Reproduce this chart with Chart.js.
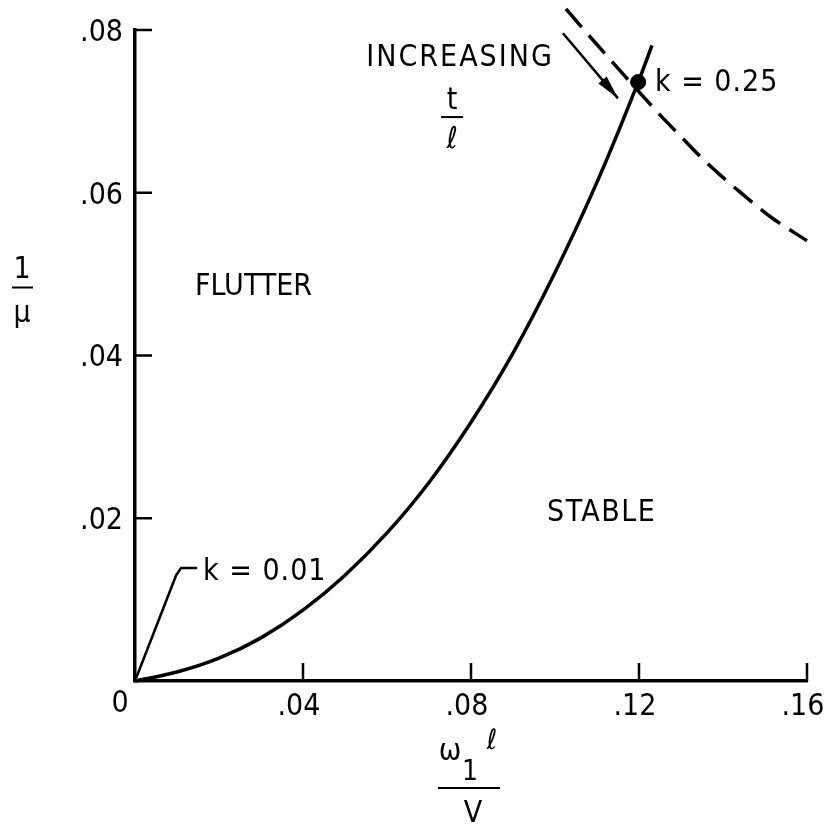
<!DOCTYPE html>
<html lang="en">
<head>
<meta charset="UTF-8">
<title>Flutter boundary</title>
<script src="https://cdn.jsdelivr.net/npm/chart.js@4"></script>
<style>
  html, body { margin: 0; padding: 0; background: #fff; }
  canvas { display: block; }
</style>
</head>
<body>
<canvas id="chart" width="825" height="830"></canvas>
<script>
// Données
const curveX = [0, 0.010, 0.020, 0.030, 0.040, 0.050, 0.060, 0.070, 0.080, 0.090, 0.100, 0.110, 0.1198, 0.1231];
const curveY = [0, 0.0011, 0.0028, 0.0053, 0.0087, 0.0130, 0.0182, 0.0244, 0.0318, 0.0403, 0.0502, 0.0613, 0.0736, 0.0781];

const dashX = [0.1026, 0.1071, 0.1119, 0.1167, 0.1214, 0.1255, 0.1298, 0.1345, 0.1393, 0.1440, 0.1517, 0.1600];
const dashY = [0.0826, 0.0799, 0.0771, 0.0743, 0.0716, 0.0693, 0.0670, 0.0645, 0.0622, 0.0601, 0.0569, 0.0541];

const leaderX = [0, 0.0098, 0.0110, 0.0148];
const leaderY = [0, 0.0130, 0.0139, 0.0139];

const arrowX = [0.1019, 0.1150];
const arrowY = [0.0796, 0.0716];

const pointX = [0.1198];
const pointY = [0.0736];

const xTicks = [0.04, 0.08, 0.12, 0.16];
const yTicks = [0.02, 0.04, 0.06, 0.08];

const FONT = "'DejaVu Sans Condensed', 'DejaVu Sans', sans-serif";
const INK = '#000';

function toPoints(xs, ys) {
  return xs.map((x, i) => ({ x: x, y: ys[i] }));
}

function tickLabel(v) {
  if (Math.abs(v) < 1e-9) return '';
  return v.toFixed(2).replace(/^0/, '');
}

// Plugin pour les graduations intérieures, la flèche et les textes
const figurePlugin = {
  id: 'figure',
  afterDatasetsDraw(chart) {
    const { ctx, chartArea, scales } = chart;
    const xs = scales.x, ys = scales.y;
    ctx.save();
    ctx.strokeStyle = INK;
    ctx.fillStyle = INK;

    // graduations vers l'intérieur
    ctx.lineWidth = 2.5;
    ctx.beginPath();
    yTicks.forEach(v => {
      const py = ys.getPixelForValue(v);
      ctx.moveTo(chartArea.left, py);
      ctx.lineTo(chartArea.left + 17, py);
    });
    xTicks.forEach(v => {
      const px = xs.getPixelForValue(v);
      ctx.moveTo(px, chartArea.bottom);
      ctx.lineTo(px, chartArea.bottom - 18);
    });
    ctx.stroke();

    // pointe de flèche
    const n = arrowX.length;
    const tx = xs.getPixelForValue(arrowX[n - 1]), ty = ys.getPixelForValue(arrowY[n - 1]);
    const sx = xs.getPixelForValue(arrowX[n - 2]), sy = ys.getPixelForValue(arrowY[n - 2]);
    const ang = Math.atan2(ty - sy, tx - sx);
    const len = 24, half = 5.5;
    ctx.beginPath();
    ctx.moveTo(tx, ty);
    ctx.lineTo(tx - len * Math.cos(ang) + half * Math.sin(ang), ty - len * Math.sin(ang) - half * Math.cos(ang));
    ctx.lineTo(tx - len * Math.cos(ang) - half * Math.sin(ang), ty - len * Math.sin(ang) + half * Math.cos(ang));
    ctx.closePath();
    ctx.fill();

    // textes
    function text(str, x, y, align, size) {
      ctx.font = (size || 30) + 'px ' + FONT;
      ctx.textAlign = align || 'left';
      ctx.textBaseline = 'middle';
      ctx.fillText(str, x, y);
    }
    function dtext(str, vx, vy, align, size) {
      text(str, xs.getPixelForValue(vx), ys.getPixelForValue(vy), align, size);
    }

    dtext('FLUTTER', 0.0143, 0.0484);
    ctx.letterSpacing = '1.5px';
    dtext('STABLE', 0.0981, 0.0206);
    ctx.letterSpacing = '2px';
    dtext('INCREASING', 0.0774, 0.0765, 'center');
    ctx.letterSpacing = '1px';
    dtext('k = 0.25', 0.1238, 0.0735);
    dtext('k = 0.01', 0.0162, 0.0134);
    ctx.letterSpacing = '0px';

    // fraction t / l
    const fx = xs.getPixelForValue(0.0755);
    dtext('t', 0.0755, 0.0713, 'center');
    ctx.font = 'italic 30px ' + FONT;
    ctx.textAlign = 'center';
    ctx.fillText('\u2113', fx, ys.getPixelForValue(0.0665));
    ctx.lineWidth = 2;
    ctx.beginPath();
    const fl = ys.getPixelForValue(0.0693);
    ctx.moveTo(fx - 11, fl);
    ctx.lineTo(fx + 11, fl);
    ctx.stroke();

    // origine
    text('0', chartArea.left - 15, chartArea.bottom + 23, 'center');

    // titre axe y : 1 / mu
    const ty0 = (chartArea.top + chartArea.bottom) / 2 - 68;
    text('1', 22, ty0 - 17, 'center');
    ctx.beginPath();
    ctx.moveTo(12, ty0);
    ctx.lineTo(33, ty0);
    ctx.stroke();
    text('\u03BC', 22, ty0 + 27, 'center');

    // titre axe x : omega_1 l / V
    const cx = (chartArea.left + chartArea.right) / 2;
    const by = chartArea.bottom + 107;
    text('\u03C9', cx - 21, by - 36, 'center');
    text('1', cx - 1, by - 15, 'center', 28);
    ctx.font = 'italic 28px ' + FONT;
    ctx.fillText('\u2113', cx + 21, by - 46);
    ctx.beginPath();
    ctx.moveTo(cx - 33, by);
    ctx.lineTo(cx + 29, by);
    ctx.stroke();
    text('V', cx + 2, by + 26, 'center');

    ctx.restore();
  }
};

const lineBase = { showLine: true, pointRadius: 0, borderColor: INK, backgroundColor: INK, clip: false };

new Chart(document.getElementById('chart'), {
  type: 'scatter',
  data: {
    datasets: [
      Object.assign({}, lineBase, { label: 'boundary', data: toPoints(curveX, curveY), borderWidth: 3.5, cubicInterpolationMode: 'monotone' }),
      Object.assign({}, lineBase, { label: 'increasing t/l', data: toPoints(dashX, dashY), borderWidth: 3.5, borderDash: [24, 11], cubicInterpolationMode: 'monotone' }),
      Object.assign({}, lineBase, { label: 'leader', data: toPoints(leaderX, leaderY), borderWidth: 2.5, tension: 0 }),
      Object.assign({}, lineBase, { label: 'arrow', data: toPoints(arrowX, arrowY), borderWidth: 2.5, tension: 0 }),
      { label: 'k = 0.25', data: toPoints(pointX, pointY), showLine: false, pointRadius: 7.5, pointBackgroundColor: INK, pointBorderColor: INK, clip: false }
    ]
  },
  options: {
    responsive: false,
    devicePixelRatio: 1,
    animation: false,
    layout: { padding: { top: 30, right: 18, left: 0, bottom: 0 } },
    plugins: { legend: { display: false }, tooltip: { enabled: false } },
    scales: {
      x: {
        type: 'linear', min: 0, max: 0.16,
        afterBuildTicks: s => { s.ticks = [0].concat(xTicks).map(v => ({ value: v })); },
        afterFit: s => { s.height = 149; s.paddingLeft = 0; s.paddingRight = 0; },
        grid: { display: false, drawTicks: false },
        border: { display: true, color: INK, width: 3.5 },
        ticks: { color: INK, padding: 8, labelOffset: -4, maxRotation: 0, font: { family: FONT, size: 30 }, callback: tickLabel }
      },
      y: {
        type: 'linear', min: 0, max: 0.08,
        afterBuildTicks: s => { s.ticks = [0].concat(yTicks).map(v => ({ value: v })); },
        afterFit: s => { s.width = 135; s.paddingTop = 0; s.paddingBottom = 0; },
        grid: { display: false, drawTicks: false },
        border: { display: true, color: INK, width: 3.5 },
        ticks: { color: INK, padding: 12, labelOffset: 3, font: { family: FONT, size: 30 }, callback: tickLabel }
      }
    }
  },
  plugins: [figurePlugin]
});
</script>
</body>
</html>
